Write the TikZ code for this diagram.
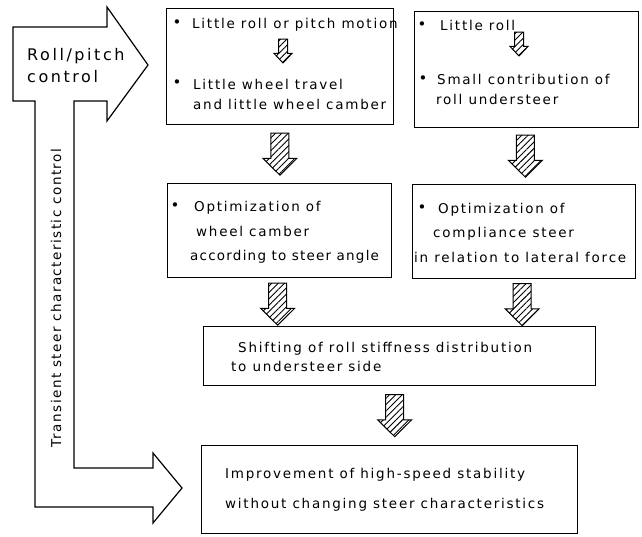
\documentclass[tikz,border=0pt]{standalone}
\usepackage{fontspec}
\newfontfamily\chartfont[LetterSpace=13]{DejaVu Sans}
\newfontfamily\chartbigfont[LetterSpace=16]{DejaVu Sans}
\usetikzlibrary{calc, %for midpoints between boxes
                patterns.meta} %for hatched arrows

\tikzset{
  pics/hatchdown/.style args={#1/#2/#3}{code={
      \draw[line width=1pt, pattern={Lines[angle=45,distance=4.5pt,line width=0.9pt]}]
        (-#1/2,-#3/2) -- (#1/2,-#3/2) -- (#1/2,#3/10) -- (#2/2,#3/10)
        -- (0,#3/2) -- (-#2/2,#3/10) -- (-#1/2,#3/10) -- cycle;
  }}
}

\begin{document}
\begin{tikzpicture}[x=1pt, y=-1pt,
                    box/.style n args={2}{draw, line width=1.3pt, anchor=north west,
                                          inner sep=0, minimum width=#1, minimum height=#2},
                    txt/.style={anchor=base west, inner sep=0,
                                font=\chartfont\fontsize{13.5}{15}\selectfont},
                    bigtxt/.style={anchor=base west, inner sep=0,
                                   font=\chartbigfont\fontsize{16}{19}\selectfont},
                    dot/.style={inner sep=0, font=\chartfont\fontsize{15}{15}\selectfont}
                    ]
    \useasboundingbox (0,0) rectangle (642,536);

    %control arrow
    \draw[line width=1.2pt, fill=white]
        (13,27) -- (107,27) -- (107,7) -- (148,65) -- (107,121) -- (107,101)
        -- (74,101) -- (74,468) -- (153,468) -- (153,453) -- (182,488)
        -- (153,523) -- (153,507) -- (35,507) -- (35,101) -- (13,101) -- cycle;
    \node[bigtxt] (rollctl) at (27,60) {Roll/pitch};
    \node[bigtxt] (rollctl2) at (27,82) {control};
    \node[txt, anchor=center, rotate=90] (transctl) at (56,298)
        {\addfontfeatures{LetterSpace=11}Transient steer characteristic control};

    %boxes
    \node[box={227pt}{116pt}] (rollbox) at (166,8) {};
    \node[box={224pt}{116pt}] (usbox) at (414,11) {};
    \node[box={224pt}{94pt}] (camberbox) at (167,183) {};
    \node[box={223pt}{94pt}] (compbox) at (412,184) {};
    \node[box={392pt}{59pt}] (shiftbox) at (203,326) {};
    \node[box={376pt}{88pt}] (stabbox) at (201,445) {};

    %texts
    \node[dot] (d1) at (177,24) {\textbullet};
    \node[txt] (t1) at (192,28) {Little roll or pitch motion};
    \node[dot] (d2) at (177,84) {\textbullet};
    \node[txt] (t2) at (193,89) {Little wheel travel};
    \node[txt] (t3) at (193,109) {and little wheel camber};

    \node[dot] (d3) at (422,26) {\textbullet};
    \node[txt] (t4) at (440,30) {Little roll};
    \node[dot] (d4) at (423,80) {\textbullet};
    \node[txt] (t5) at (437,84) {Small contribution of};
    \node[txt] (t6) at (436,104) {roll understeer};

    \node[dot] (d5) at (175,207) {\textbullet};
    \node[txt] (t7) at (194,211) {Optimization of};
    \node[txt] (t8) at (196,236) {wheel camber};
    \node[txt] (t9) at (190,260) {\addfontfeatures{LetterSpace=9}according to steer angle};

    \node[dot] (d6) at (422,209) {\textbullet};
    \node[txt] (t10) at (438,213) {Optimization of};
    \node[txt] (t11) at (433,237) {compliance steer};
    \node[txt] (t12) at (414,262) {in relation to lateral force};

    \node[txt] (t13) at (238,352) {Shifting of roll stiffness distribution};
    \node[txt] (t14) at (231,371) {to understeer side};

    \node[txt] (t15) at (225,478) {Improvement of high-speed stability};
    \node[txt] (t16) at (225,508) {without changing steer characteristics};

    %hatched arrows
    \pic at (283,51) {hatchdown=9/18/24};
    \pic at (519,44) {hatchdown=9/18/24};
    \pic at ($(rollbox.south)!0.5!(camberbox.north)$) {hatchdown=18/34/42};
    \pic at ($(usbox.south)!0.5!(compbox.north)$) {hatchdown=18/34/42};
    \pic at ($(camberbox.south)!0.5!(camberbox.south |- shiftbox.north)+(-2,2)$) {hatchdown=18/34/42};
    \pic at ($(compbox.south)!0.5!(compbox.south |- shiftbox.north)+(-2,2)$) {hatchdown=18/34/42};
    \pic at ($(shiftbox.south)!0.5!(stabbox.north)$) {hatchdown=18/34/42};

\end{tikzpicture}
\end{document}
